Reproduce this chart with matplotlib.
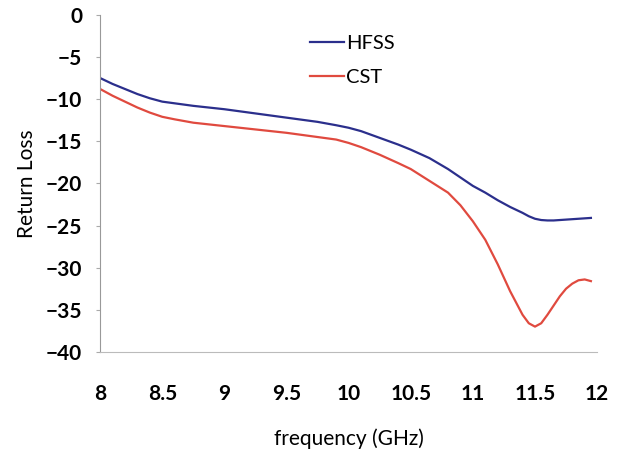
import matplotlib
matplotlib.use("Agg")
import matplotlib.pyplot as plt

freq = [8.0, 8.1, 8.2, 8.3, 8.4, 8.5, 8.6, 8.75, 9.0, 9.25,
        9.5, 9.75, 9.9, 10.0, 10.1, 10.25, 10.4, 10.5, 10.65, 10.8,
        10.9, 11.0, 11.1, 11.2, 11.3, 11.4, 11.45, 11.5, 11.55, 11.6,
        11.65, 11.7, 11.75, 11.8, 11.85, 11.9, 11.95]
hfss = [-7.5, -8.2, -8.8, -9.4, -9.9, -10.3, -10.5, -10.8, -11.2, -11.7,
        -12.2, -12.7, -13.1, -13.4, -13.8, -14.6, -15.4, -16.0, -17.0, -18.3,
        -19.3, -20.3, -21.1, -22.0, -22.8, -23.5, -23.9, -24.2, -24.35, -24.4,
        -24.4, -24.35, -24.3, -24.25, -24.2, -24.15, -24.1]
cst = [-8.8, -9.6, -10.3, -11.0, -11.6, -12.1, -12.4, -12.8, -13.2, -13.6,
       -14.0, -14.5, -14.8, -15.2, -15.7, -16.6, -17.6, -18.3, -19.7, -21.1,
       -22.6, -24.5, -26.7, -29.6, -32.8, -35.6, -36.6, -37.0, -36.6, -35.6,
       -34.5, -33.4, -32.5, -31.9, -31.5, -31.4, -31.6]
xticks = [8, 8.5, 9, 9.5, 10, 10.5, 11, 11.5, 12]
xticklabels = ["8", "8.5", "9", "9.5", "10", "10.5", "11", "11.5", "12"]
yticks = [0, -5, -10, -15, -20, -25, -30, -35, -40]

plt.rcParams['font.family'] = ['Lato', 'DejaVu Sans']

fig = plt.figure(figsize=(6.22, 4.5), dpi=100)
ax = fig.add_axes([0.161, 0.218, 0.799, 0.749])

ax.plot(freq, hfss, color="#2b2f8c", lw=1.6, label="HFSS", solid_joinstyle="round")
ax.plot(freq, cst, color="#e04a3f", lw=1.6, label="CST", solid_joinstyle="round")

ax.set_xlim(8, 12)
ax.set_ylim(-40, 0)
ax.set_xticks(xticks)
ax.set_xticklabels(xticklabels)
ax.set_yticks(yticks)

for s in ["top", "right"]:
    ax.spines[s].set_visible(False)
ax.spines["left"].set_color("#999999")
ax.spines["bottom"].set_color("#bbbbbb")
ax.spines["left"].set_linewidth(0.8)
ax.spines["bottom"].set_linewidth(0.8)

ax.tick_params(axis="x", length=0, pad=23, labelsize=15)
ax.tick_params(axis="y", length=3, color="#aaaaaa", pad=10, labelsize=15)
for lbl in ax.get_xticklabels() + ax.get_yticklabels():
    lbl.set_fontweight("bold")

ax.set_xlabel("frequency (GHz)", fontsize=15, labelpad=18)
ax.set_ylabel("Return Loss", fontsize=15, labelpad=6)

ax.legend(loc="upper left", bbox_to_anchor=(0.385, 0.995), frameon=False,
          fontsize=14.5, handlelength=1.7, handletextpad=0.1, labelspacing=0.85)

fig.savefig("out.png", dpi=100)
